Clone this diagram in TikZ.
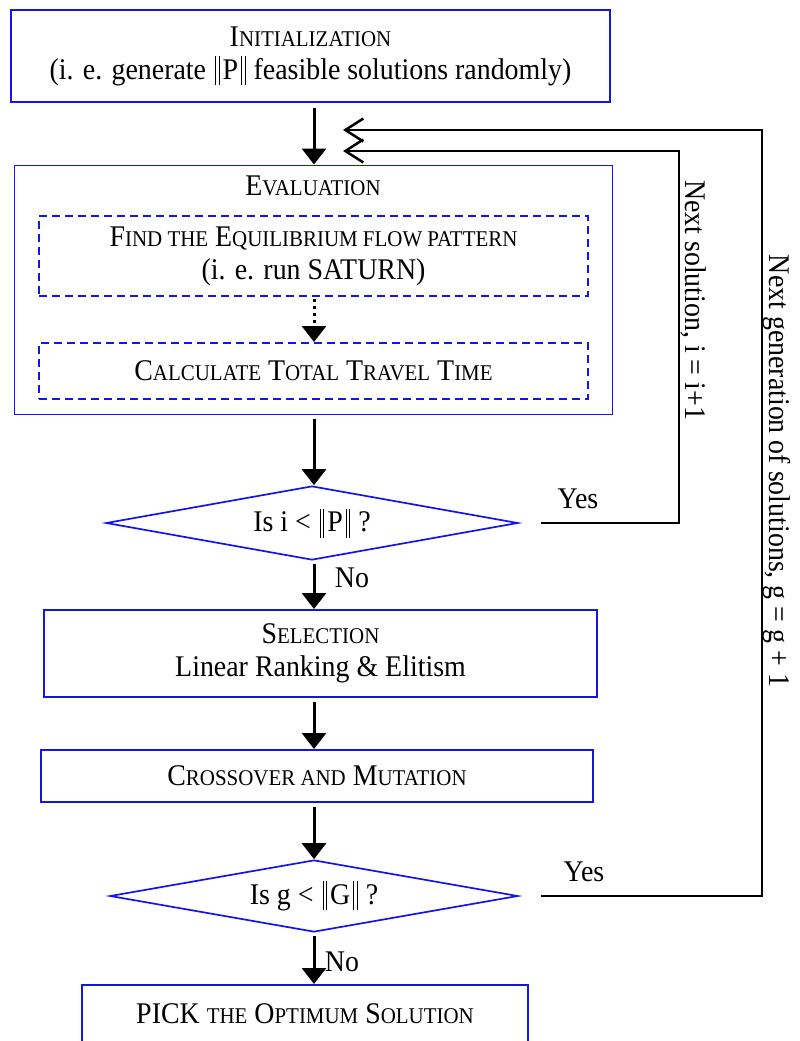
\documentclass[tikz,border=0pt]{standalone}
\usepackage{fontspec}
\setmainfont[FakeStretch=0.93]{Liberation Serif}
\usetikzlibrary{arrows.meta,shapes.geometric}
\newcommand\smc[1]{{\fontsize{22.5}{22.5}\selectfont #1}}
\newcommand\dbar{\raisebox{-6pt}{\rule{1pt}{29pt}\kern2.5pt\rule{1pt}{29pt}}}
\newcommand\nrm[1]{\kern9pt\dbar\kern3pt#1\kern3pt\dbar\kern8pt}
\definecolor{boxblue}{RGB}{20,20,240}
\tikzset{
  txt/.style={font=\fontsize{30}{33}\selectfont, align=center, inner sep=0pt},
  bluebox/.style={draw=boxblue, line width=2pt, rectangle, inner sep=0pt, txt},
  thinbox/.style={draw=boxblue, line width=1pt, rectangle, inner sep=0pt},
  dashbox/.style={draw=boxblue, line width=2pt, dash pattern=on 8pt off 5pt, rectangle, inner sep=0pt, txt},
  decision/.style={draw=boxblue, line width=1.7pt, diamond, aspect=5.5, inner sep=0pt, txt},
  flow/.style={draw=black, line width=3pt, -{Triangle[length=16pt,width=24pt]}},
  back/.style={draw=black, line width=2.5pt, -{Straight Barb[length=18pt,width=23pt,line width=2.5pt]}, line join=miter},
  lbl/.style={txt}
}
\begin{document}
\begin{tikzpicture}[x=1pt,y=-1pt]
\useasboundingbox (0,0) rectangle (800,1041);
\clip (0,0) rectangle (800,1041);
\coordinate (ax) at (314,0);

\node[bluebox, minimum width=599pt, minimum height=92pt] (init) at (310.5,56)
  {I\smc{NITIALIZATION}\\(i. e. generate\nrm{P}feasible solutions randomly)};

\node[thinbox, minimum width=598pt, minimum height=249pt] (eval) at (313,289.5) {};
\node[txt] (evaltitle) at (313,186) {E\smc{VALUATION}};

\node[dashbox, minimum width=549pt, minimum height=80pt] (find) at (313.5,256)
  {F\smc{IND THE} E\smc{QUILIBRIUM FLOW PATTERN}\\(i. e. run SATURN)};
\node[dashbox, minimum width=549pt, minimum height=56pt] (calc) at (313.5,371)
  {C\smc{ALCULATE} T\smc{OTAL} T\smc{RAVEL} T\smc{IME}};

\node[decision, minimum width=412pt, minimum height=74pt] (dec1) at (312,523)
  {Is i <\nrm{P}?};

\node[bluebox, minimum width=553pt, minimum height=87pt] (sel) at (320.5,653.5)
  {S\smc{ELECTION}\\Linear Ranking \& Elitism};

\node[bluebox, minimum width=552pt, minimum height=52pt] (cross) at (317,776)
  {C\smc{ROSSOVER AND} M\smc{UTATION}};

\node[decision, minimum width=408pt, minimum height=72pt] (dec2) at (314,896)
  {Is g <\nrm{G}?};

\node[bluebox, minimum width=446pt, minimum height=58pt] (pick) at (305,1014)
  {PICK \smc{THE} O\smc{PTIMUM} S\smc{OLUTION}};

% main flow
\draw[flow, shorten <=5pt] (init.south -| ax) -- (eval.north -| ax);
\draw[flow, dash pattern=on 3pt off 4pt, shorten <=2pt] (find.south -| ax) -- (calc.north -| ax);
\draw[flow, shorten <=4pt] (eval.south -| ax) -- (dec1.north -| ax);
\draw[flow, shorten <=3pt] (dec1.south -| ax) -- (sel.north -| ax);
\draw[flow, shorten <=4pt] (sel.south -| ax) -- (cross.north -| ax);
\draw[flow, shorten <=4pt] (cross.south -| ax) -- (dec2.north -| ax);
\draw[flow, shorten <=3pt] (dec2.south -| ax) -- (pick.north -| ax);

\node[lbl] (no1) at (352,578) {No};
\node[lbl] (no2) at (342,962) {No};
\node[lbl] (yes1) at (578,499) {Yes};
\node[lbl] (yes2) at (584,872) {Yes};

% feedback loops
\coordinate (loop1) at (679,151);
\coordinate (tip1) at (343,151);
\coordinate (loop2) at (762,130);
\coordinate (tip2) at (343,130);
\draw[back] ([xshift=22pt]dec1.east) -| (loop1) -- (tip1);
\draw[back] ([xshift=22pt]dec2.east) -| (loop2) -- (tip2);

\node[txt, rotate=-90] (nsol) at (694,300) {Next solution, i = i+1};
\node[txt, rotate=-90] (ngen) at (777,471) {Next generation of solutions, g = g + 1};
\end{tikzpicture}
\end{document}
